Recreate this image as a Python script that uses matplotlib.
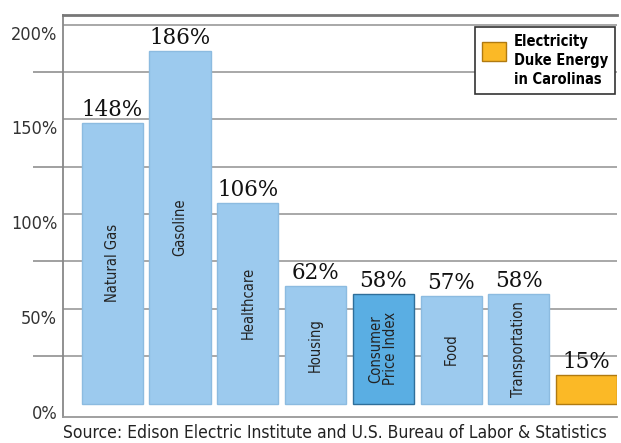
import numpy as np
import matplotlib
matplotlib.use('Agg')
import matplotlib.pyplot as plt
from matplotlib.patches import Rectangle
from matplotlib.legend_handler import HandlerPatch
from matplotlib.transforms import ScaledTranslation

# DATA
categories = ['Natural Gas', 'Gasoline', 'Healthcare', 'Housing',
              'Consumer\nPrice Index', 'Food', 'Transportation', 'Electricity']
increase = [148, 186, 106, 62, 58, 57, 58, 15]
value_labels = ['148%', '186%', '106%', '62%', '58%', '57%', '58%', '15%']
ytick_vals = [0, 50, 100, 150, 200]
ytick_labels = ['0%', '50%', '100%', '150%', '200%']
legend_text = 'Electricity\nDuke Energy\nin Carolinas'
source = 'Source: Edison Electric Institute and U.S. Bureau of Labor & Statistics'

light_blue = '#9ccaee'
cpi_blue = '#5aaee3'
orange = '#fbb926'

fig = plt.figure(figsize=(6.21, 4.43), dpi=100)
ax = fig.add_axes([0.101, 0.059, 0.893, 0.907])

x = np.arange(len(categories))
colors = [light_blue] * len(categories)
colors[4] = cpi_blue
colors[7] = orange
edges = ['#8cbbe0'] * len(categories)
edges[4] = '#2f6f9a'
edges[7] = '#b07a10'

bars = ax.bar(x, increase, width=0.9, color=colors, edgecolor=edges, linewidth=1, zorder=3)

cond = dict(family='DejaVu Sans', stretch='condensed')

# value labels above bars
for xi, v, lab in zip(x, increase, value_labels):
    ax.text(xi, v + 1, lab, ha='center', va='bottom', fontsize=15.5,
            family='DejaVu Serif', color='#111111', zorder=4)

# category names inside bars (no label on the electricity bar)
for xi, v, name in zip(x[:-1], increase[:-1], categories[:-1]):
    ax.text(xi, v / 2, name, rotation=90, ha='center', va='center',
            fontsize=10.5, color='#222222', linespacing=0.95, zorder=4, **cond)

ax.set_xlim(-0.73, 7.45)
ax.set_ylim(-7, 205)
ax.set_xticks([])

ax.set_yticks(ytick_vals)
ax.set_yticklabels(ytick_labels, fontsize=13, color='#333333', **cond)
ax.set_yticks([25, 75, 125, 175], minor=True)
ax.tick_params(axis='y', which='major', length=0, pad=4)
ax.tick_params(axis='y', which='minor', length=21.5, width=1.3, color='#999999')
offset = ScaledTranslation(0, -0.08, fig.dpi_scale_trans)
for lab in ax.get_yticklabels():
    lab.set_transform(lab.get_transform() + offset)

for v in [25, 50, 75, 100, 125, 150, 175, 200]:
    ax.axhline(v, color='#a8a8a8', linewidth=1.4, zorder=1)

ax.spines['right'].set_visible(False)
ax.spines['left'].set_color('#888888')
ax.spines['left'].set_linewidth(1.3)
ax.spines['bottom'].set_color('#999999')
ax.spines['bottom'].set_linewidth(1.3)
ax.spines['top'].set_color('#777777')
ax.spines['top'].set_linewidth(2)


# legend swatch sits at the top of the three text lines
def top_swatch(legend, orig_handle, xdescent, ydescent, width, height, fontsize):
    h = 1.3 * fontsize
    return Rectangle((-xdescent, -ydescent + height - h), width, h)


leg = ax.legend([bars[7]], [legend_text], loc='upper right',
                bbox_to_anchor=(0.9964, 0.970), borderaxespad=0,
                fancybox=False, edgecolor='#333333', framealpha=1,
                handlelength=1.6, handleheight=3.9, borderpad=0.5,
                handletextpad=0.55,
                handler_map={Rectangle: HandlerPatch(patch_func=top_swatch)},
                prop={'family': 'DejaVu Sans', 'stretch': 'condensed',
                      'size': 10.5, 'weight': 'bold'})
leg.get_frame().set_linewidth(1.2)
for t in leg.get_texts():
    t.set_linespacing(1.3)

fig.text(0.101, 0.022, source, ha='left', va='center', fontsize=12.5,
         color='#222222', **cond)

fig.savefig('out.png', dpi=100)
